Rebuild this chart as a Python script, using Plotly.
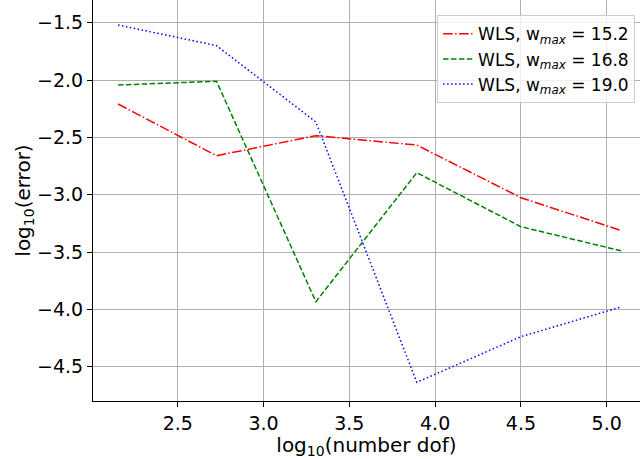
import plotly.graph_objects as go

# log10 of the number of degrees of freedom
log_dof = [2.152, 2.726, 3.305, 3.893, 4.500, 5.088]

# log10 of the error for each weight bound
err_w152 = [-2.209, -2.660, -2.485, -2.567, -3.026, -3.314]
err_w168 = [-2.043, -2.011, -3.933, -2.808, -3.279, -3.491]
err_w190 = [-1.520, -1.700, -2.366, -4.636, -4.238, -3.977]

series = [
    ("WLS, w<sub><i>max</i></sub> = 15.2", err_w152, "red", "9.6px,2.4px,1.5px,2.4px"),
    ("WLS, w<sub><i>max</i></sub> = 16.8", err_w168, "green", "5.5px,2.4px"),
    ("WLS, w<sub><i>max</i></sub> = 19.0", err_w190, "blue", "1.5px,2.5px"),
]

x_ticks = [2.5, 3.0, 3.5, 4.0, 4.5, 5.0]
y_ticks = [-4.5, -4.0, -3.5, -3.0, -2.5, -2.0, -1.5]

fig = go.Figure()
for name, vals, color, dash in series:
    fig.add_trace(go.Scatter(
        x=log_dof, y=vals, mode="lines", name=name,
        line=dict(color=color, dash=dash, width=1.5),
    ))

font = "DejaVu Sans, Arial, sans-serif"
axis_common = dict(
    showgrid=True, gridcolor="#b0b0b0", gridwidth=1,
    showline=True, linecolor="black", linewidth=1,
    ticks="outside", ticklen=5, tickcolor="black", tickwidth=1,
    zeroline=False, mirror=False,
    tickfont=dict(family=font, size=19, color="black"),
)

fig.update_layout(
    width=640, height=459,
    margin=dict(l=93, r=0, t=0, b=58),
    paper_bgcolor="white", plot_bgcolor="white",
    font=dict(family=font, color="black"),
    showlegend=True,
    legend=dict(
        x=0.991, y=0.962, xanchor="right", yanchor="top",
        bgcolor="rgba(255,255,255,0.8)", bordercolor="#cccccc", borderwidth=1,
        font=dict(family=font, size=17, color="black"),
        tracegroupgap=0, itemwidth=30,
    ),
    xaxis=dict(
        range=[2.006, 5.194], tickvals=x_ticks,
        ticktext=[f"{v:.1f}" for v in x_ticks],
        title=dict(text="log<sub>10</sub>(number dof)", standoff=3,
                   font=dict(family=font, size=20, color="black")),
        **axis_common,
    ),
    yaxis=dict(
        range=[-4.799, -1.302], tickvals=y_ticks,
        ticktext=[f"\u2212{abs(v):.1f}" for v in y_ticks],
        title=dict(text="log<sub>10</sub>(error)", standoff=0,
                   font=dict(family=font, size=20, color="black")),
        **axis_common,
    ),
)

fig.write_html("out.html")
